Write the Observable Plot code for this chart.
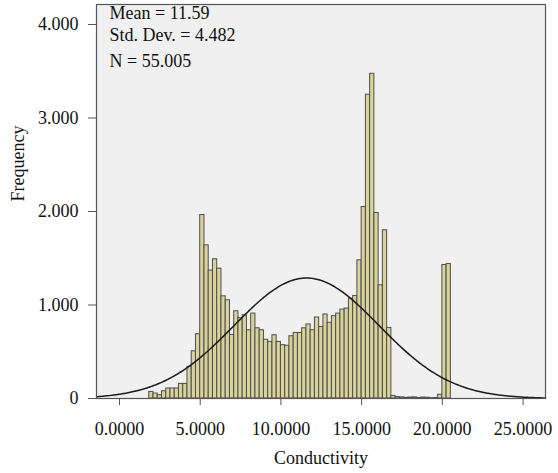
<!DOCTYPE html>
<html>
<head>
<meta charset="utf-8">
<script src="https://cdn.jsdelivr.net/npm/d3@7"></script>
<script src="https://cdn.jsdelivr.net/npm/@observablehq/plot@0.6"></script>
<style>
  html, body { margin: 0; padding: 0; background: #ffffff; }
  svg { display: block; }
</style>
</head>
<body>
<div id="chart"></div>
<script>
// Histogram bins (start and width of the SPSS bins)
const binStart = 1.8421;
const binWidth = 0.26316;
// Frequencies per bin, left to right
const counts = [
  70, 53, 35, 78, 107, 107, 107, 156, 156, 338, 505, 687,
  1962, 1638, 1368, 1489, 1389, 1093, 1051, 680, 933, 858, 890,
  730, 908, 751, 730, 628, 605, 676, 605, 570, 564,
  666, 701, 701, 751, 792, 730, 866, 765, 899, 810,
  880, 908, 951, 962, 1069, 1097, 1478, 2048, 3249, 3473,
  1984, 1211, 1799, 755,
  28, 15, 12, 8, 10, 12, 5, 10, 8, 3, 5, 40,
  1428, 1438
];
// Summary statistics
const statMean = 11.59;
const statSD = 4.482;
const statN = 55005;
const statLines = ["Mean = 11.59", "Std. Dev. = 4.482", "N = 55.005"];
// Axis ticks
const xTicks = [0, 5, 10, 15, 20, 25];
const yTicks = [0, 1000, 2000, 3000, 4000];
const xTitle = "Conductivity";
const yTitle = "Frequency";

const bins = counts.map((c, i) => ({
  x1: binStart + i * binWidth,
  x2: binStart + (i + 1) * binWidth,
  count: c
}));

const xDomain = [-1.425, 26.39];
const curve = d3.range(0, 401).map(i => {
  const x = xDomain[0] + (xDomain[1] - xDomain[0]) * i / 400;
  const z = (x - statMean) / statSD;
  return {x, y: statN * binWidth / (statSD * Math.sqrt(2 * Math.PI)) * Math.exp(-0.5 * z * z)};
});

const fmtY = d => d === 0 ? "0" : d3.format(",")(d).replace(/,/g, ".");
const fmtX = d => d.toFixed(4);

const font = "Liberation Serif, Times New Roman, serif";

const chart = Plot.plot({
  width: 558,
  height: 473,
  marginLeft: 96,
  marginRight: 13,
  marginTop: 4,
  marginBottom: 75,
  style: {fontFamily: font, fontSize: "18px", color: "#111", background: "#ffffff"},
  x: {domain: xDomain},
  y: {domain: [0, 4214]},
  marks: [
    Plot.frame({fill: "#f0f0f0", stroke: "none"}),
    Plot.rectY(bins, {x1: "x1", x2: "x2", y1: 0, y2: "count", fill: "#d9d29b", stroke: "#4d4d4d", strokeWidth: 1, insetLeft: 0, insetRight: 0}),
    Plot.line(curve, {x: "x", y: "y", stroke: "#1a1a1a", strokeWidth: 1.5}),
    Plot.frame({stroke: "#555555", strokeWidth: 1.2}),
    Plot.axisY({ticks: yTicks, tickFormat: fmtY, tickSize: 8, tickPadding: 10, label: null, stroke: "#555", fontSize: 18}),
    Plot.axisX({ticks: xTicks, tickFormat: fmtX, tickSize: 7, tickPadding: 17, label: null, stroke: "#555", fontSize: 18}),
    Plot.text([xTitle], {frameAnchor: "bottom", dy: 65, lineAnchor: "bottom", text: d => d, fontSize: 18, fill: "#111"}),
    Plot.text([yTitle], {frameAnchor: "left", dx: -78, rotate: -90, text: d => d, fontSize: 18, fill: "#111"}),
    Plot.text([statLines[0]], {frameAnchor: "top-left", dx: 13, dy: 14, lineAnchor: "bottom", textAnchor: "start", text: d => d, fontSize: 18, fill: "#111"}),
    Plot.text([statLines[1]], {frameAnchor: "top-left", dx: 13, dy: 36.7, lineAnchor: "bottom", textAnchor: "start", text: d => d, fontSize: 18, fill: "#111"}),
    Plot.text([statLines[2]], {frameAnchor: "top-left", dx: 13, dy: 62.7, lineAnchor: "bottom", textAnchor: "start", text: d => d, fontSize: 18, fill: "#111"})
  ]
});
document.getElementById("chart").appendChild(chart);
</script>
</body>
</html>
